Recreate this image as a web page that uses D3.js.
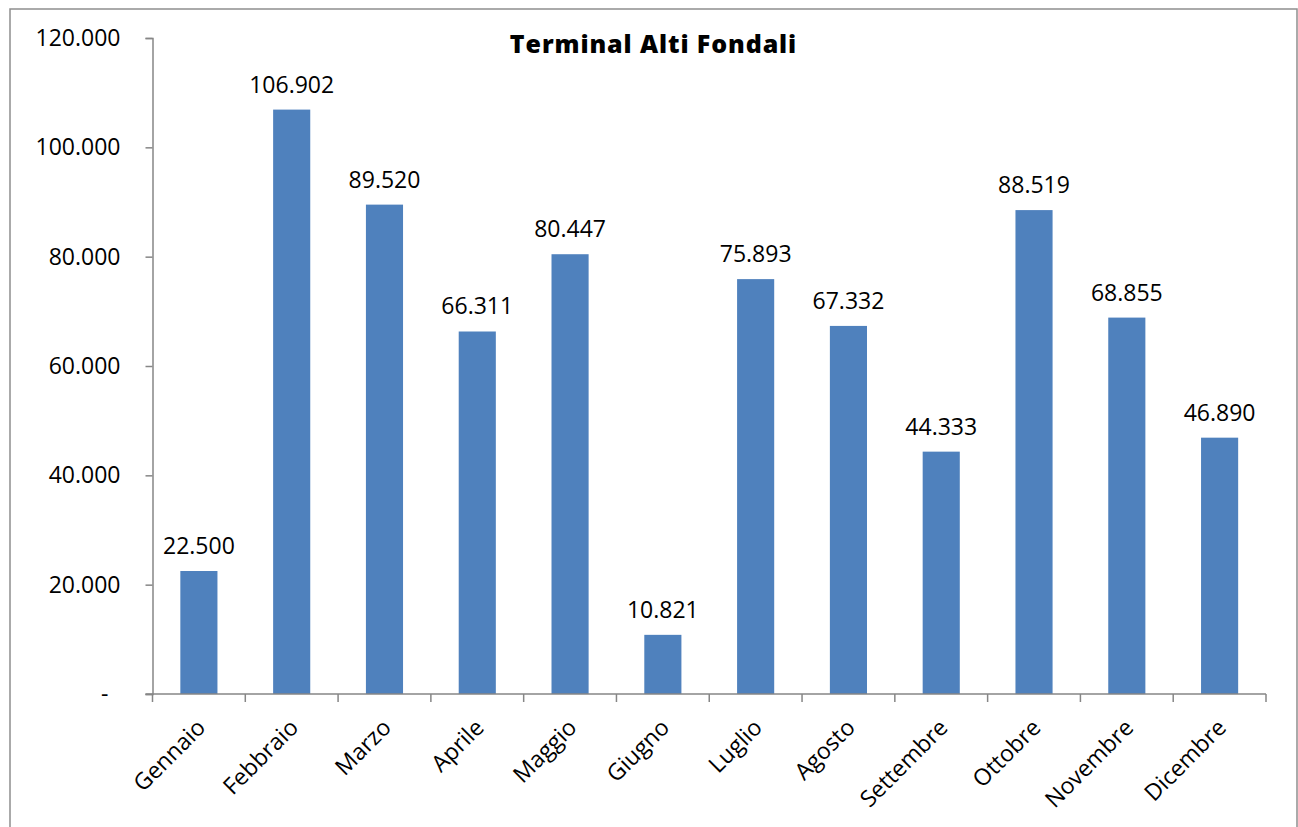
<!DOCTYPE html>
<html>
<head>
<meta charset="utf-8">
<script src="https://cdn.jsdelivr.net/npm/d3@7"></script>
<style>
  html, body { margin: 0; padding: 0; background: #fff; }
  svg { display: block; }
</style>
</head>
<body>
<svg id="chart" width="1298" height="827"></svg>
<script>
// Monthly volumes, Terminal Alti Fondali
const months = ["Gennaio", "Febbraio", "Marzo", "Aprile", "Maggio", "Giugno",
                "Luglio", "Agosto", "Settembre", "Ottobre", "Novembre", "Dicembre"];
const volumes = [22500, 106902, 89520, 66311, 80447, 10821,
                 75893, 67332, 44333, 88519, 68855, 46890];
const yTicks = [0, 20000, 40000, 60000, 80000, 100000, 120000];
const title = "Terminal Alti Fondali";

const svg = d3.select("#chart");
const W = 1298, H = 827;
const margin = { left: 152.5, right: 1298 - 1266, top: 38, bottom: 827 - 694 };

const fmt = v => v === 0 ? "-" : d3.format(",.0f")(v).replace(/,/g, ".");

// outer frame
svg.append("rect")
  .attr("x", 10).attr("y", 9)
  .attr("width", 1287).attr("height", 840)
  .attr("fill", "#fff")
  .attr("stroke", "#8e8e8e").attr("stroke-width", 1.5);

const x = d3.scaleBand()
  .domain(months)
  .range([margin.left, W - margin.right])
  .paddingInner(0.6).paddingOuter(0.3);

const y = d3.scaleLinear()
  .domain([0, 120000])
  .range([H - margin.bottom, margin.top]);

const font = "'Open Sans', sans-serif";
const fs = 23;

// bars
svg.append("g").selectAll("rect")
  .data(volumes)
  .join("rect")
  .attr("x", (d, i) => x(months[i]))
  .attr("y", d => y(d))
  .attr("width", x.bandwidth())
  .attr("height", d => y(0) - y(d))
  .attr("fill", "#4f81bd");

// value labels
svg.append("g").selectAll("text")
  .data(volumes)
  .join("text")
  .attr("x", (d, i) => x(months[i]) + x.bandwidth() / 2)
  .attr("y", d => y(d) - 17)
  .attr("text-anchor", "middle")
  .attr("font-family", font)
  .attr("font-size", fs)
  .attr("fill", "#000")
  .text(d => fmt(d));

// y axis
const yAxis = svg.append("g")
  .attr("transform", `translate(${margin.left},0)`)
  .call(d3.axisLeft(y).tickValues(yTicks).tickSize(7).tickFormat(fmt).tickPadding(25));
yAxis.select(".domain").attr("stroke", "#868686").attr("stroke-width", 1.5);
yAxis.selectAll(".tick line").attr("stroke", "#868686").attr("stroke-width", 1.5);
yAxis.selectAll(".tick text")
  .attr("font-family", font).attr("font-size", fs).attr("fill", "#000")
  .attr("dx", d => d === 0 ? -12 : 0);

// x axis with ticks at band boundaries
const xAxisG = svg.append("g").attr("transform", `translate(0,${y(0)})`);
const step = x.step();
const edges = d3.range(months.length + 1).map(i => margin.left + i * step);
xAxisG.append("line")
  .attr("x1", margin.left - 7).attr("x2", W - margin.right)
  .attr("stroke", "#868686").attr("stroke-width", 1.5);
xAxisG.selectAll(".edge")
  .data(edges)
  .join("line")
  .attr("class", "edge")
  .attr("x1", d => d).attr("x2", d => d)
  .attr("y1", 0).attr("y2", 8)
  .attr("stroke", "#868686").attr("stroke-width", 1.5);

xAxisG.selectAll(".lbl")
  .data(months)
  .join("text")
  .attr("class", "lbl")
  .attr("transform", d => `translate(${x(d) + x.bandwidth() / 2 + 8},${35}) rotate(-45)`)
  .attr("text-anchor", "end")
  .attr("font-family", font)
  .attr("font-size", fs)
  .attr("fill", "#000")
  .text(d => d);

// title
svg.append("text")
  .attr("x", 653.5).attr("y", 53)
  .attr("text-anchor", "middle")
  .attr("font-family", font)
  .attr("font-weight", 800)
  .attr("font-size", 25)
  .attr("letter-spacing", 0.9)
  .attr("fill", "#000")
  .text(title);
</script>
</body>
</html>
